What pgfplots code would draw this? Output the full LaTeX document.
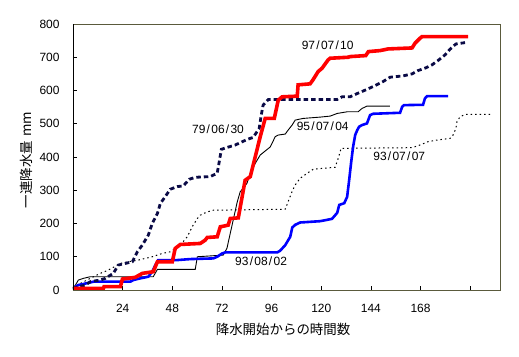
\documentclass[border=0pt]{standalone}
\usepackage{fontspec}
\setmainfont{Liberation Sans}
\newfontfamily\jp{Noto Sans CJK JP}
\usepackage{pgfplots}
\pgfplotsset{compat=1.18}
\definecolor{frameol}{RGB}{90,90,60}
\definecolor{navyd}{RGB}{10,10,70}
\newcommand{\sla}{\kern1.3bp/\kern1.3bp}
\begin{document}
\begin{tikzpicture}
\begin{axis}[
  at={(0,0)}, anchor=south west,
  scale only axis, width=427bp, height=266bp,
  xmin=0, xmax=206.4, ymin=0, ymax=800,
  xtick={24,48,72,96,120,144,168,192},
  xticklabels={24,48,72,96,120,144,168,{}},
  ytick={0,100,...,800},
  tick align=inside, xtick pos=left, ytick pos=left,
  major tick length=4bp,
  tick style={black, line width=0.8bp},
  axis line style={frameol, line width=0.9bp},
  /pgf/number format/assume math mode=true,
  tick label style={font=\fontsize{12}{14}\selectfont},
  xticklabel style={anchor=center, yshift=-18bp},
  yticklabel style={anchor=east, xshift=-10bp},
  xlabel={\jp 降水開始からの時間数},
  ylabel={\jp 一連降水量\hspace{4bp}mm},
  xlabel style={at={(axis description cs:0.492,-0.150)}, anchor=center, font=\fontsize{13.5}{15}\selectfont},
  ylabel style={at={(axis description cs:-0.110,0.489)}, anchor=center, rotate=0, font=\fontsize{13.5}{15}\selectfont},
]
% 93/07/07 dotted black
\addplot[black, line width=1bp, dash pattern=on 1.5bp off 3bp] coordinates {
(0,5)(3.6,20)(8.4,35)(13.2,50)(17.1,60)(22.9,80)(26.8,85)(31.6,90)(38.3,100)(43.2,110)(47,115)(51.9,135)(55.2,160)(57.6,190)(60.1,215)(61.5,225)(64.9,235)(67.8,240)(102.6,243)(104,266)(105.9,296)(107.4,316)(109.8,336)(113.2,351)(116.1,363)(120.9,366)(126.7,369)(128.2,396)(129.6,426)(163.9,428)(167.7,436)(171.6,446)(176,451)(182.3,456)(183.7,466)(185.1,486)(185.6,506)(187.1,521)(189.5,528)(202.5,528)};
% 95/07/04 thin black
\addplot[black, line width=0.9bp] coordinates {
(0,5)(1.2,15)(2.6,30)(5,35)(8.4,40)(38.8,40)(40.8,62)(59.1,62)(60.1,100)(72.6,105)(74.4,125)(76,170)(77.6,215)(79.4,265)(80.8,295)(84.1,321)(85.7,351)(88.1,381)(90.5,406)(92.9,418)(95.3,430)(96.9,450)(97.7,461)(99.2,466)(102.6,469)(104,481)(105.9,496)(107.4,511)(111.2,516)(119.5,520)(124.3,523)(127.7,531)(132.5,536)(137.8,536)(139.7,546)(142.1,553)(153.2,553)};
% 93/08/02 blue
\addplot[blue, line width=2.6bp] coordinates {
(0,5)(2.6,15)(5,18)(9.9,25)(27.7,25)(29.2,30)(32.5,35)(36.4,40)(38.3,55)(39.8,75)(41.2,90)(50.4,90)(56.7,93)(67.8,95)(69.7,100)(72.1,110)(73.6,113)(98.7,113)(100.1,118)(102.6,135)(105,160)(106,188)(107.4,196)(109.8,203)(119.5,207)(125.2,214)(127.7,232)(128.7,256)(131.1,261)(132.5,280)(133.5,331)(134.4,381)(135.4,431)(136.4,466)(137.4,481)(138.3,491)(139.7,496)(142.1,501)(143.6,526)(145.1,530)(158.1,533)(159.1,551)(160,556)(169.2,557)(170.1,576)(171.1,583)(181.3,583)};
% 79/06/30 navy dashed
\addplot[navyd, line width=2.8bp, dash pattern=on 4.5bp off 3bp] coordinates {
(0,5)(6,15)(8.4,25)(13.2,30)(15.6,35)(19.5,50)(21.9,75)(25.3,80)(28.7,85)(31.1,115)(33.5,135)(36.4,165)(38.3,200)(40.8,230)(42.2,260)(44.6,281)(47,303)(50.4,311)(53.3,313)(56.2,333)(59.1,339)(66.3,341)(69.7,351)(70.7,386)(71.7,423)(74.6,429)(78.4,436)(81.8,446)(84.7,454)(87.1,459)(90,486)(91,526)(91.9,556)(94.4,573)(127.7,573)(130.1,581)(133.9,581)(137.8,592)(141.2,601)(145.1,612)(149.9,627)(153.3,640)(159.6,644)(163.9,650)(166.8,660)(170.1,667)(173.5,677)(176.4,690)(179.8,707)(182.2,724)(185.1,740)(189.5,744)};
% 97/07/10 red
\addplot[red, line width=3.6bp] coordinates {
(0,5)(14.7,5)(15,10)(22.9,10)(23.9,33)(30.1,38)(33.5,50)(38.8,55)(40.8,85)(48,85)(49.4,125)(51.9,137)(61.5,140)(63.9,150)(64.9,158)(69.7,160)(71.2,190)(75,195)(76,215)(79.9,217)(83.2,330)(85.7,341)(88.1,401)(90.5,461)(92.9,516)(97.3,516)(99.2,571)(101.1,581)(108.4,583)(108.8,617)(114.6,620)(116,632)(118.5,657)(120.4,667)(123.3,692)(124.3,697)(133,700)(134,702)(141.5,705)(142.8,717)(148.4,720)(152.3,725)(163.9,728)(165.3,742)(167.7,757)(168.7,762)(191,762)};
\draw[black, line width=0.9bp] (rel axis cs:0,1) -- (rel axis cs:0,0) -- (rel axis cs:1,0);
\node[font=\fontsize{12}{14}\selectfont] at (axis cs:123.1,737) {97\sla07\sla10};
\node[font=\fontsize{12}{14}\selectfont] at (axis cs:70.1,483.6) {79\sla06\sla30};
\node[font=\fontsize{12}{14}\selectfont] at (axis cs:120.7,493) {95\sla07\sla04};
\node[font=\fontsize{12}{14}\selectfont] at (axis cs:157.7,403.6) {93\sla07\sla07};
\node[font=\fontsize{12}{14}\selectfont] at (axis cs:90.9,86.3) {93\sla08\sla02};
\end{axis}
\pgfresetboundingbox
\path[use as bounding box] (-73bp,-67bp) rectangle (446bp,290bp);
\end{tikzpicture}
\end{document}
